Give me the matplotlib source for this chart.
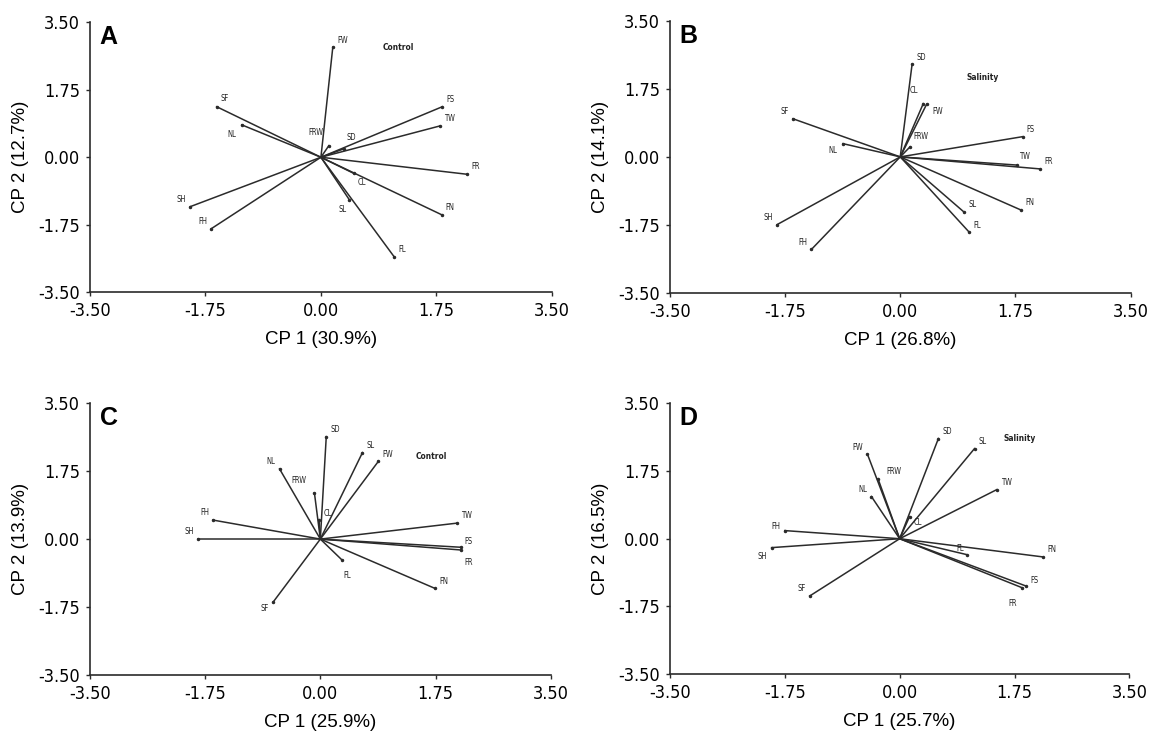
import numpy as np
import matplotlib
matplotlib.use("Agg")
import matplotlib.pyplot as plt

# variable names per panel
vars_A = ["FW", "FS", "TW", "FR", "FN", "FL", "SL", "CL", "SD", "FRW", "SF", "NL", "SH", "FH"]
x_A = [0.18, 1.84, 1.80, 2.21, 1.83, 1.11, 0.43, 0.50, 0.35, 0.12, -1.58, -1.20, -1.98, -1.66]
y_A = [2.85, 1.31, 0.81, -0.44, -1.49, -2.58, -1.10, -0.42, 0.22, 0.30, 1.31, 0.84, -1.28, -1.85]

vars_B = ["SD", "CL", "FW", "FRW", "FS", "TW", "FR", "FN", "SL", "FL", "SF", "NL", "SH", "FH"]
x_B = [0.18, 0.35, 0.40, 0.15, 1.86, 1.77, 2.13, 1.84, 0.97, 1.05, -1.63, -0.87, -1.87, -1.35]
y_B = [2.38, 1.37, 1.35, 0.26, 0.52, -0.21, -0.31, -1.37, -1.42, -1.94, 0.98, 0.34, -1.74, -2.38]

vars_C = ["SD", "SL", "FW", "FRW", "CL", "NL", "TW", "FS", "FR", "FN", "FL", "FH", "SH", "SF"]
x_C = [0.09, 0.64, 0.88, -0.09, -0.02, -0.62, 2.07, 2.13, 2.13, 1.74, 0.33, -1.63, -1.86, -0.72]
y_C = [2.64, 2.23, 2.00, 1.19, 0.50, 1.81, 0.41, -0.21, -0.28, -1.27, -0.54, 0.49, 0.00, -1.63]

vars_D = ["FW", "SD", "SL", "TW", "FRW", "NL", "CL", "FN", "FS", "FR", "FL", "FH", "SH", "SF"]
x_D = [-0.49, 0.59, 1.14, 1.48, -0.33, -0.43, 0.15, 2.18, 1.92, 1.87, 1.02, -1.75, -1.95, -1.37]
y_D = [2.18, 2.59, 2.33, 1.27, 1.55, 1.09, 0.57, -0.47, -1.22, -1.27, -0.41, 0.21, -0.23, -1.48]

letters = ["A", "B", "C", "D"]
treatments = ["Control", "Salinity", "Control", "Salinity"]
xlabels = ["CP 1 (30.9%)", "CP 1 (26.8%)", "CP 1 (25.9%)", "CP 1 (25.7%)"]
ylabels = ["CP 2 (12.7%)", "CP 2 (14.1%)", "CP 2 (13.9%)", "CP 2 (16.5%)"]
ticks = [-3.50, -1.75, 0.00, 1.75, 3.50]

# where the treatment note starts in each panel
note_pos = [(0.93, 2.85), (1.0, 2.05), (1.45, 2.12), (1.58, 2.60)]

# label offsets (points) where the default one would clash
offsets = [
    {"SD": (2, 5), "FRW": (-4, 6), "SL": (-2, -4), "CL": (3, -3), "NL": (-4, -4), "SF": (3, 3)},
    {"CL": (-4, 6), "FW": (4, -2), "FRW": (2, 4), "TW": (2, 3), "NL": (-4, -2)},
    {"FRW": (-6, 6), "CL": (3, 1), "FS": (3, 1), "FR": (3, -6), "FL": (1, -8), "SF": (-3, -1)},
    {"FRW": (6, 2), "CL": (3, -1), "FS": (3, 1), "FR": (-4, -8), "FL": (-2, 1), "FH": (-3, 0), "SH": (-3, -3)},
]

panels = [(vars_A, x_A, y_A), (vars_B, x_B, y_B), (vars_C, x_C, y_C), (vars_D, x_D, y_D)]
rects = [[0.0783, 0.605, 0.402, 0.365],
         [0.583, 0.604, 0.401, 0.368],
         [0.0783, 0.088, 0.401, 0.367],
         [0.583, 0.089, 0.400, 0.366]]

regular = ["Liberation Sans", "DejaVu Sans"]
ink = "#2b2b2b"

fig = plt.figure(figsize=(11.49, 7.40), dpi=100)

for i, (names, xs, ys) in enumerate(panels):
    ax = fig.add_axes(rects[i])
    for n, x, y in zip(names, xs, ys):
        ax.plot([0, x], [0, y], color=ink, lw=1.1)
        ax.plot(x, y, marker=".", ms=3, color=ink)
        default = (3, 2) if x >= 0 else (-3, 2)
        off = offsets[i].get(n, default)
        ax.annotate(n, (x, y), xytext=off, textcoords="offset points",
                    fontsize=5.5, ha="left" if off[0] >= 0 else "right",
                    va="bottom" if off[1] >= 0 else "top", color="#222222",
                    family="DejaVu Sans", fontstretch="condensed")
    ax.text(note_pos[i][0], note_pos[i][1], treatments[i], fontsize=6,
            fontweight="bold", family="DejaVu Sans", fontstretch="condensed",
            color="#222222", va="center")
    ax.text(-3.35, 3.42, letters[i], fontsize=18, fontweight="bold",
            family=regular, va="top", ha="left")

    ax.set_xlim(-3.5, 3.5)
    ax.set_ylim(-3.5, 3.5)
    ax.set_xticks(ticks)
    ax.set_yticks(ticks)
    ax.set_xticklabels(["%.2f" % t for t in ticks], family="DejaVu Sans",
                       fontstretch="condensed", fontsize=13)
    ax.set_yticklabels(["%.2f" % t for t in ticks], family="DejaVu Sans",
                       fontstretch="condensed", fontsize=13)
    ax.tick_params(length=3, width=1, color=ink, pad=4)
    for s in ["top", "right"]:
        ax.spines[s].set_visible(False)
    for s in ["left", "bottom"]:
        ax.spines[s].set_color(ink)
        ax.spines[s].set_linewidth(1.2)
    ax.set_xlabel(xlabels[i], family=regular, fontsize=13.5, labelpad=8)
    ax.set_ylabel(ylabels[i], family=regular, fontsize=13.5, labelpad=7)

fig.savefig("out.png", dpi=100, facecolor="white")
